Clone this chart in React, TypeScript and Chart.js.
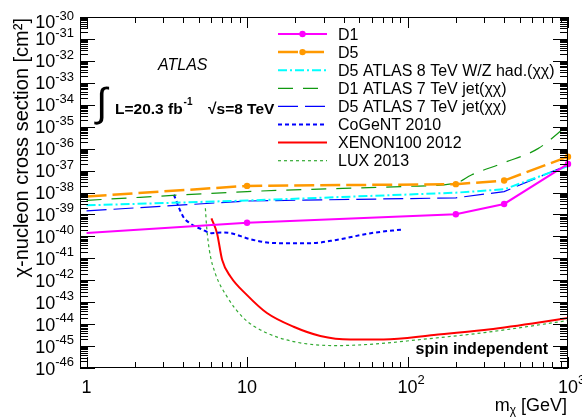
import React, { useEffect, useRef } from "react";
import { Chart, registerables } from "chart.js";

Chart.register(...registerables);

// ---------- data (mass in GeV, cross section in cm^2) ----------
const D1_MASS = [1, 10, 200, 400, 1000];
const D1_XSEC = [1.43e-40, 4.2e-40, 1.02e-39, 3.0e-39, 2.0e-37];

const D5_MASS = [1, 10, 200, 400, 1000];
const D5_XSEC = [6.6e-39, 2.0e-38, 2.4e-38, 3.5e-38, 4.3e-37];

const WZ_MASS = [1, 10, 200, 400, 1000];
const WZ_XSEC = [2.6e-39, 4.3e-39, 9.8e-39, 1.4e-38, 1.6e-37];

const D1JET_MASS = [1, 10, 100, 200, 250, 400, 650, 1000];
const D1JET_XSEC = [4.4e-39, 1.1e-38, 1.9e-38, 2.7e-38, 6.3e-38, 2.3e-37, 1.0e-36, 1.2e-35];

const D5JET_MASS = [1, 10, 200, 400, 1000];
const D5JET_XSEC = [1.45e-39, 4.1e-39, 5.7e-39, 1.1e-38, 1.8e-37];

const COGENT_MASS = [3.5, 4.0, 4.4, 5.3, 6.0, 7.0, 7.9, 10.5, 14, 17, 25, 36, 59, 95];
const COGENT_XSEC = [7.9e-39, 7.9e-40, 4.0e-40, 2.0e-40, 1.4e-40, 1.5e-40, 1.4e-40, 7.4e-41, 5.1e-41, 4.9e-41, 4.9e-41, 6.9e-41, 1.4e-40, 2.1e-40];

const XENON_MASS = [6.0, 6.5, 7.0, 7.9, 10, 13.3, 19.5, 28.6, 44, 71, 146, 300, 614, 1000];
const XENON_XSEC = [6.6e-40, 1.4e-40, 8.3e-42, 1.45e-42, 2.1e-43, 3.2e-44, 7.6e-45, 2.9e-45, 2.0e-45, 2.0e-45, 3.2e-45, 5.4e-45, 1.1e-44, 1.9e-44];

const LUX_MASS = [5.5, 5.6, 5.82, 6.33, 7.5, 9.5, 12.7, 19.5, 36, 64, 114, 300, 1000];
const LUX_XSEC = [1.9e-39, 2.75e-40, 2.4e-41, 2.1e-42, 1.8e-43, 1.9e-44, 4.6e-45, 1.6e-45, 1.05e-45, 1.26e-45, 1.9e-45, 4.1e-45, 1.45e-44];

const SERIES_LABELS = [
  "D1",
  "D5",
  "D5 ATLAS 8 TeV W/Z had.(χχ)",
  "D1 ATLAS 7 TeV jet(χχ)",
  "D5 ATLAS 7 TeV jet(χχ)",
  "CoGeNT 2010",
  "XENON100 2012",
  "LUX 2013",
];

// axis ranges and tick labels
const X_MIN = 0.91;
const X_MAX = 1000;
const Y_MIN = 1e-46;
const Y_MAX = 1e-30;
const X_MAJOR_TICKS = [1, 10, 100, 1000];
const X_TICK_BASES = ["1", "10", "10", "10"];
const X_TICK_EXPS = ["", "", "2", "3"];
const Y_EXPONENTS = [-46, -45, -44, -43, -42, -41, -40, -39, -38, -37, -36, -35, -34, -33, -32, -31, -30];

const FONT = "'Liberation Sans', Arial, Helvetica, sans-serif";

const pts = (xs: number[], ys: number[]) => xs.map((x, i) => ({ x, y: ys[i] }));

type Extra = { legendMarker?: boolean };

const overlayPlugin = {
  id: "overlay",
  afterDatasetsDraw(chart: any) {
    const ctx: CanvasRenderingContext2D = chart.ctx;
    const a = chart.chartArea;
    const xs = chart.scales.x;
    const ys = chart.scales.y;
    ctx.save();

    // ---- frame ----
    ctx.strokeStyle = "#000";
    ctx.lineWidth = 1;
    ctx.setLineDash([]);
    ctx.strokeRect(a.left + 0.5, a.top + 0.5, a.right - a.left - 1, a.bottom - a.top - 1);

    // ---- x ticks (bottom and top, inward) ----
    ctx.beginPath();
    for (let d = 0; d < X_MAJOR_TICKS.length; d++) {
      const dec = X_MAJOR_TICKS[d];
      for (let m = 1; m <= 9; m++) {
        const v = dec * m;
        if (v > X_MAX * 1.0001) continue;
        const px = Math.round(xs.getPixelForValue(v)) + 0.5;
        const len = m === 1 ? 11 : 6;
        ctx.moveTo(px, a.bottom);
        ctx.lineTo(px, a.bottom - len);
        ctx.moveTo(px, a.top);
        ctx.lineTo(px, a.top + len);
      }
    }
    // ---- y ticks (left and right, inward) ----
    for (const e of Y_EXPONENTS) {
      for (let m = 1; m <= 9; m++) {
        const v = m * Math.pow(10, e);
        if (v > Y_MAX * 1.0001) continue;
        const py = Math.round(ys.getPixelForValue(v)) + 0.5;
        const len = m === 1 ? 15 : 8;
        ctx.moveTo(a.left, py);
        ctx.lineTo(a.left + len, py);
        ctx.moveTo(a.right, py);
        ctx.lineTo(a.right - len, py);
      }
    }
    ctx.stroke();

    // ---- y tick labels ----
    ctx.fillStyle = "#000";
    ctx.textBaseline = "alphabetic";
    for (const e of Y_EXPONENTS) {
      let py = ys.getPixelForValue(Math.pow(10, e));
      if (e === -30) py += 4.5;
      const expStr = String(e);
      ctx.font = `13px ${FONT}`;
      const ew = ctx.measureText(expStr).width;
      const right = 74;
      ctx.textAlign = "left";
      ctx.fillText(expStr, right - ew, py - 2);
      ctx.font = `18px ${FONT}`;
      ctx.textAlign = "right";
      ctx.fillText("10", right - ew, py + 6.5);
    }

    // ---- x tick labels ----
    for (let i = 0; i < X_MAJOR_TICKS.length; i++) {
      const px = xs.getPixelForValue(X_MAJOR_TICKS[i]);
      ctx.font = `18px ${FONT}`;
      ctx.textAlign = "center";
      const bw = ctx.measureText(X_TICK_BASES[i]).width;
      ctx.fillText(X_TICK_BASES[i], px, 393);
      if (X_TICK_EXPS[i]) {
        ctx.font = `13px ${FONT}`;
        ctx.textAlign = "left";
        ctx.fillText(X_TICK_EXPS[i], px + bw / 2, 384);
      }
    }

    // ---- x axis title: m_χ [GeV] ----
    {
      const right = 567;
      const base = 411;
      ctx.font = `18px ${FONT}`;
      const w3 = ctx.measureText(" [GeV]").width;
      const wm = ctx.measureText("m").width;
      ctx.font = `12px ${FONT}`;
      const wc = ctx.measureText("χ").width;
      const x0 = right - w3 - wc - wm;
      ctx.textAlign = "left";
      ctx.font = `18px ${FONT}`;
      ctx.fillText("m", x0, base);
      ctx.font = `12px ${FONT}`;
      ctx.fillText("χ", x0 + wm, base + 3);
      ctx.font = `18px ${FONT}`;
      ctx.fillText(" [GeV]", x0 + wm + wc, base);
    }

    // ---- y axis title ----
    {
      ctx.save();
      ctx.translate(28, 18);
      ctx.rotate(-Math.PI / 2);
      ctx.font = `20px ${FONT}`;
      ctx.textAlign = "right";
      ctx.fillText("χ-nucleon cross section [cm²]", 0, 0);
      ctx.restore();
    }

    // ---- ATLAS labels ----
    ctx.textAlign = "left";
    ctx.font = `italic 16px ${FONT}`;
    ctx.fillText("ATLAS", 158, 70);
    ctx.font = `40px ${FONT}`;
    ctx.fillText("∫", 96, 115.5);
    ctx.font = `bold 15.5px ${FONT}`;
    ctx.fillText("L=20.3 fb", 115, 113.5);
    const lw = ctx.measureText("L=20.3 fb").width;
    ctx.font = `bold 10px ${FONT}`;
    ctx.fillText("-1", 115 + lw + 1, 105);
    ctx.font = `bold 15.5px ${FONT}`;
    ctx.fillText("√s=8 TeV", 208, 113.5);
    ctx.textAlign = "right";
    ctx.font = `bold 16px ${FONT}`;
    ctx.fillText("spin independent", 548, 354);

    // ---- legend ----
    const ds = chart.data.datasets;
    for (let i = 0; i < ds.length; i++) {
      const d = ds[i];
      const cy = 34 + i * 18.1;
      ctx.strokeStyle = d.borderColor;
      ctx.lineWidth = d.borderWidth;
      ctx.setLineDash(d.borderDash || []);
      ctx.beginPath();
      ctx.moveTo(278, cy);
      ctx.lineTo(327, cy);
      ctx.stroke();
      ctx.setLineDash([]);
      if ((d as Extra).legendMarker) {
        ctx.fillStyle = d.borderColor;
        ctx.beginPath();
        ctx.arc(302.5, cy, 3.2, 0, Math.PI * 2);
        ctx.fill();
      }
      ctx.fillStyle = "#000";
      ctx.textAlign = "left";
      ctx.font = `16px ${FONT}`;
      ctx.fillText(d.label, 338, cy + 5.7);
    }

    ctx.restore();
  },
};

export default function App() {
  const ref = useRef<HTMLCanvasElement>(null);

  useEffect(() => {
    const canvas = ref.current;
    if (!canvas) return;
    const markerRadius = [0, 3.2, 3.2, 3.2, 3.2];
    const datasets: any[] = [
      {
        label: SERIES_LABELS[0],
        data: pts(D1_MASS, D1_XSEC),
        borderColor: "#ff00ff",
        backgroundColor: "#ff00ff",
        borderWidth: 2,
        pointRadius: markerRadius,
        pointBorderWidth: 0,
        legendMarker: true,
        clip: false,
      },
      {
        label: SERIES_LABELS[1],
        data: pts(D5_MASS, D5_XSEC),
        borderColor: "#ff9900",
        backgroundColor: "#ff9900",
        borderWidth: 2.5,
        borderDash: [20, 6],
        pointRadius: markerRadius,
        pointBorderWidth: 0,
        legendMarker: true,
        clip: false,
      },
      {
        label: SERIES_LABELS[2],
        data: pts(WZ_MASS, WZ_XSEC),
        borderColor: "#00ffff",
        borderWidth: 2,
        borderDash: [9, 3, 2, 3],
        pointRadius: 0,
      },
      {
        label: SERIES_LABELS[3],
        data: pts(D1JET_MASS, D1JET_XSEC),
        borderColor: "#109910",
        borderWidth: 1.2,
        borderDash: [15, 10],
        pointRadius: 0,
        cubicInterpolationMode: "monotone",
      },
      {
        label: SERIES_LABELS[4],
        data: pts(D5JET_MASS, D5JET_XSEC),
        borderColor: "#0000ff",
        borderWidth: 1.2,
        borderDash: [20, 7],
        pointRadius: 0,
      },
      {
        label: SERIES_LABELS[5],
        data: pts(COGENT_MASS, COGENT_XSEC),
        borderColor: "#0000ff",
        borderWidth: 2,
        borderDash: [4, 3],
        pointRadius: 0,
        cubicInterpolationMode: "monotone",
      },
      {
        label: SERIES_LABELS[6],
        data: pts(XENON_MASS, XENON_XSEC),
        borderColor: "#ff0000",
        borderWidth: 2,
        pointRadius: 0,
        cubicInterpolationMode: "monotone",
      },
      {
        label: SERIES_LABELS[7],
        data: pts(LUX_MASS, LUX_XSEC),
        borderColor: "#33aa33",
        borderWidth: 1.2,
        borderDash: [3, 3],
        pointRadius: 0,
        cubicInterpolationMode: "monotone",
      },
    ];

    const chart = new Chart(canvas, {
      type: "line",
      data: { datasets },
      options: {
        responsive: false,
        animation: false,
        events: [],
        layout: { padding: { left: 80, top: 17, right: 14, bottom: 49 } },
        elements: { line: { tension: 0, fill: false } },
        scales: {
          x: { type: "logarithmic", min: X_MIN, max: X_MAX, display: false, bounds: "data" },
          y: { type: "logarithmic", min: Y_MIN, max: Y_MAX, display: false, bounds: "data" },
        },
        plugins: { legend: { display: false }, tooltip: { enabled: false }, title: { display: false } },
      } as any,
      plugins: [overlayPlugin],
    });
    return () => chart.destroy();
  }, []);

  return (
    <div style={{ position: "absolute", left: 0, top: 0, width: 582, height: 417, background: "#fff" }}>
      <canvas ref={ref} width={582} height={417} style={{ width: 582, height: 417, display: "block" }} />
    </div>
  );
}
